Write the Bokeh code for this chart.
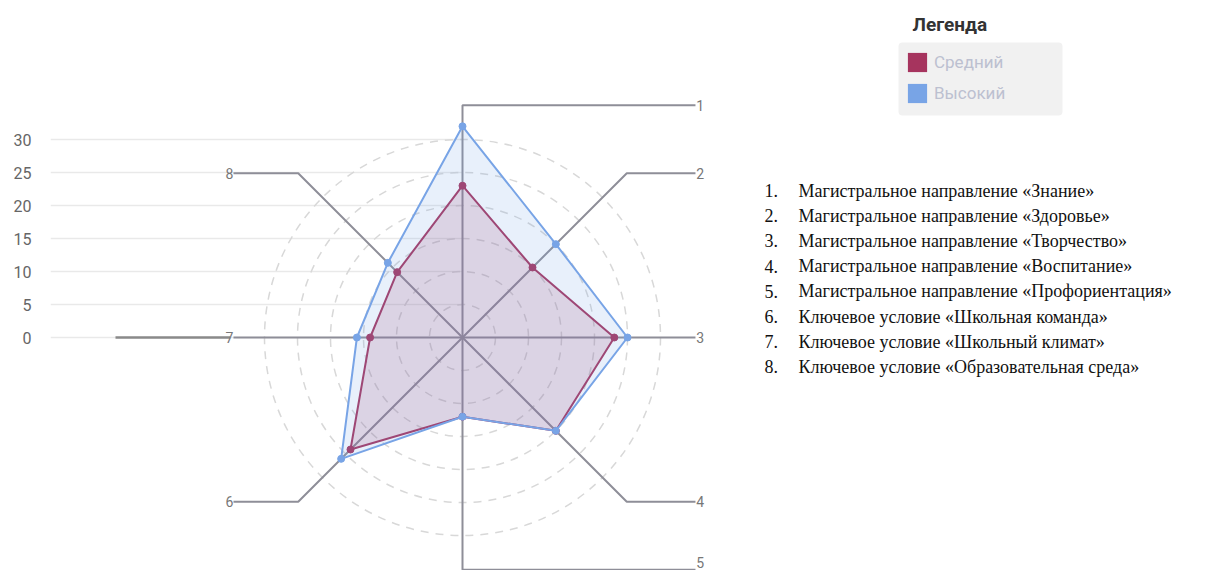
import math
from bokeh.plotting import figure
from bokeh.models import Range1d, FixedTicker, Legend, LegendItem, BoxAnnotation
from bokeh.core.properties import value
from bokeh.embed import file_html
from bokeh.resources import INLINE

# ---------------- data ----------------
categories = ["1", "2", "3", "4", "5", "6", "7", "8"]
medium = [23, 15, 23, 20, 12, 24, 14, 14]
high = [32, 20, 25, 20, 12, 26, 16, 16]
series_names = ["Средний", "Высокий"]
radial_ticks = [0, 5, 10, 15, 20, 25, 30]
legend_title = "Легенда"
list_numbers = ["1.", "2.", "3.", "4.", "5.", "6.", "7.", "8."]
list_texts = [
    "Магистральное направление «Знание»",
    "Магистральное направление «Здоровье»",
    "Магистральное направление «Творчество»",
    "Магистральное направление «Воспитание»",
    "Магистральное направление «Профориентация»",
    "Ключевое условие «Школьная команда»",
    "Ключевое условие «Школьный климат»",
    "Ключевое условие «Образовательная среда»",
]

RED = "#a6345e"
BLUE = "#78a4e6"
SPOKE = "#8e8e98"

# ---------------- geometry ----------------
W, H = 1217, 570
U = 6.6            # px per unit
CX, CY = 462, 337  # px of the radar centre
LEFT = 50
x_start, x_end = -(CX - LEFT) / U, (W - CX) / U
y_start, y_end = -(H - CY) / U, CY / U
L = 35.2           # spoke length (units)
NAN = float("nan")


def dx(px):
    return (px - CX) / U


def dy(py):
    return (CY - py) / U


p = figure(width=W, height=H, x_range=Range1d(x_start, x_end),
           y_range=Range1d(y_start, y_end), x_axis_location=None,
           y_axis_location="left", output_backend="svg", toolbar_location=None,
           min_border_left=LEFT, min_border_right=0, min_border_top=0,
           min_border_bottom=0, background_fill_color="white",
           border_fill_color="white")
p.outline_line_color = None
p.xgrid.visible = False
p.ygrid.visible = False
ax = p.yaxis[0]
ax.ticker = FixedTicker(ticks=radial_ticks)
ax.axis_line_color = None
ax.major_tick_line_color = None
ax.minor_tick_line_color = None
ax.major_tick_out = 0
ax.major_label_standoff = 19
ax.major_label_text_font = "Roboto"
ax.major_label_text_font_size = "16px"
ax.major_label_text_color = "#666666"

# horizontal gridlines (left half only)
n = len(radial_ticks)
p.segment(x0=[x_start] * n, y0=radial_ticks, x1=[0] * n, y1=radial_ticks,
          line_color="#e9e9e9", line_width=1.5)

# dashed rings
p.circle(x=[0] * (n - 1), y=[0] * (n - 1), radius=radial_ticks[1:],
         fill_color=None, line_color="#d8d8d8", line_width=1.5, line_dash="8 7")

# spokes + leaders + labels
N = len(categories)
angles = [math.pi / 2 - k * 2 * math.pi / N for k in range(N)]
sxs, sys_ = [], []
lab_r_x, lab_r_y, lab_r_t = [], [], []
lab_l_x, lab_l_y, lab_l_t = [], [], []
y_lab_min = y_start + 8 / U
for k, a in enumerate(angles):
    ex, ey = L * math.cos(a), L * math.sin(a)
    if abs(ex) < 1e-6:
        xs, ys = [0, 0, L], [0, ey, ey]
        side = 1
    elif abs(abs(ex) - L) < 1e-6:
        side = 1 if ex > 0 else -1
        xs, ys = [0, ex], [0, 0]
    else:
        side = 1 if ex > 0 else -1
        xs, ys = [0, ex, side * L], [0, ey, ey]
    if side < 0:
        xs[-1] = -L + 0.5
    else:
        xs[-1] = L + 0.1
    sxs.append(xs)
    sys_.append(ys)
    ly_lab = max(ey, y_lab_min)
    if side > 0:
        lab_r_x.append(L + 0.2); lab_r_y.append(ly_lab); lab_r_t.append(categories[k])
    else:
        lab_l_x.append(-L + 0.5); lab_l_y.append(ly_lab); lab_l_t.append(categories[k])

p.multi_line(xs=sxs, ys=sys_, line_color=SPOKE, line_width=2)
# extra darker stub on the left at the zero line
p.segment(x0=[dx(115)], y0=[0], x1=[-L], y1=[0], line_color="#8a8a8a", line_width=2.5)

p.text(x=lab_r_x, y=lab_r_y, text=lab_r_t, text_font=value("Roboto"),
       text_font_size="14px", text_color="#777777", text_baseline="middle",
       text_align="left")
p.text(x=lab_l_x, y=lab_l_y, text=lab_l_t, text_font=value("Roboto"),
       text_font_size="14px", text_color="#777777", text_baseline="middle",
       text_align="right")


def poly(vals):
    xs = [v * math.cos(a) for v, a in zip(vals, angles)]
    ys = [v * math.sin(a) for v, a in zip(vals, angles)]
    return xs, ys


for vals, col in ((medium, RED), (high, BLUE)):
    xs, ys = poly(vals)
    p.patch(xs, ys, fill_color=col, fill_alpha=0.17, line_color=None)
    p.line(xs + [xs[0]], ys + [ys[0]], line_color=col, line_width=2)
    p.scatter(xs, ys, size=7, fill_color=col, line_color=col)

# legend
p.add_layout(BoxAnnotation(left=dx(898), right=dx(1062), top=dy(42), bottom=dy(115),
                           fill_color="#f1f1f1", fill_alpha=1, line_color=None,
                           border_radius=4))
r_med = p.quad(left=[NAN], right=[NAN], top=[NAN], bottom=[NAN],
               fill_color=RED, line_color=None)
r_high = p.quad(left=[NAN], right=[NAN], top=[NAN], bottom=[NAN],
                fill_color=BLUE, line_color=None)
legend = Legend(items=[LegendItem(label=series_names[0], renderers=[r_med]),
                       LegendItem(label=series_names[1], renderers=[r_high])],
                location=(905 - LEFT, H - (34 + 71)),
                glyph_width=24, glyph_height=24, label_height=24, spacing=7,
                padding=8, margin=0, label_standoff=5,
                label_text_font="Roboto", label_text_font_size="17px",
                label_text_color="#bcc0d0", background_fill_alpha=0,
                border_line_color=None)
p.add_layout(legend)

p.text(x=[dx(912)], y=[dy(24)], text=[legend_title], text_font=value("Roboto"),
       text_font_style="bold", text_font_size="19px", text_color="#333333",
       text_baseline="middle", text_align="left")

# right-hand numbered list
ly = [dy(190 + i * 25.2) for i in range(len(list_texts))]
p.text(x=[dx(764)] * len(list_numbers), y=ly, text=list_numbers,
       text_font=value("Liberation Serif"), text_font_size="18px",
       text_color="#111111", text_baseline="middle", text_align="left")
p.text(x=[dx(798)] * len(list_texts), y=ly, text=list_texts,
       text_font=value("Liberation Serif"), text_font_size="18px",
       text_color="#111111", text_baseline="middle", text_align="left")

open("out.html", "w").write(file_html(p, INLINE))
